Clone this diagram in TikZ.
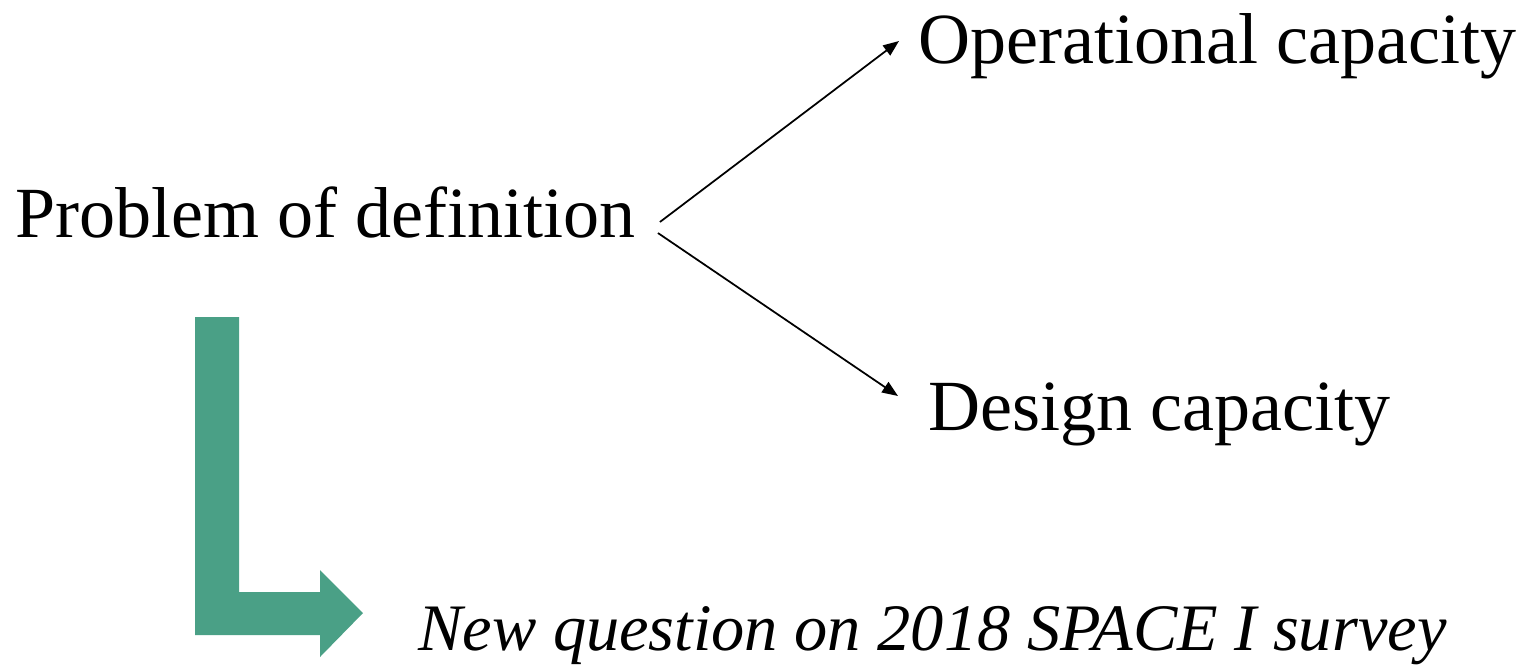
\documentclass[tikz,border=0pt]{standalone}
\usepackage{fontspec}
\setmainfont{Liberation Serif}
\usetikzlibrary{arrows.meta}
\definecolor{arrowgreen}{RGB}{74,160,134}
\begin{document}
\begin{tikzpicture}[x=0.02cm, y=-0.02cm,
        lbl/.style={inner sep=0pt, anchor=base west, font=\fontsize{41}{49}\selectfont},
        thinarrow/.style={black, line width=1pt, -{Triangle[length=9pt, width=7pt]}}]
        \useasboundingbox (0,0) rectangle (1520,667);
        \node[lbl] (prob) at (15,237) {Problem of definition};
        \node[lbl] (oper) at (918,63) {Operational capacity};
        \node[lbl] (design) at (928,430) {Design capacity};
        \node[lbl, font=\fontsize{37.8}{45}\selectfont\itshape] (newq) at (418,650) {New question on 2018 SPACE I survey};
        \draw[thinarrow] ([shift={(24,-15)}]prob.base east) -- ([shift={(-19,-22)}]oper.base west);
        \draw[thinarrow] ([shift={(22,-4)}]prob.base east) -- ([shift={(-30,-34)}]design.base west);
        % bent arrow down to the survey
        \fill[arrowgreen] (195,317) -- (239,317) -- (239,592) -- (320,592) -- (320,570)
                -- (363,613) -- (320,657) -- (320,635) -- (195,635) -- cycle;
\end{tikzpicture}
\end{document}
